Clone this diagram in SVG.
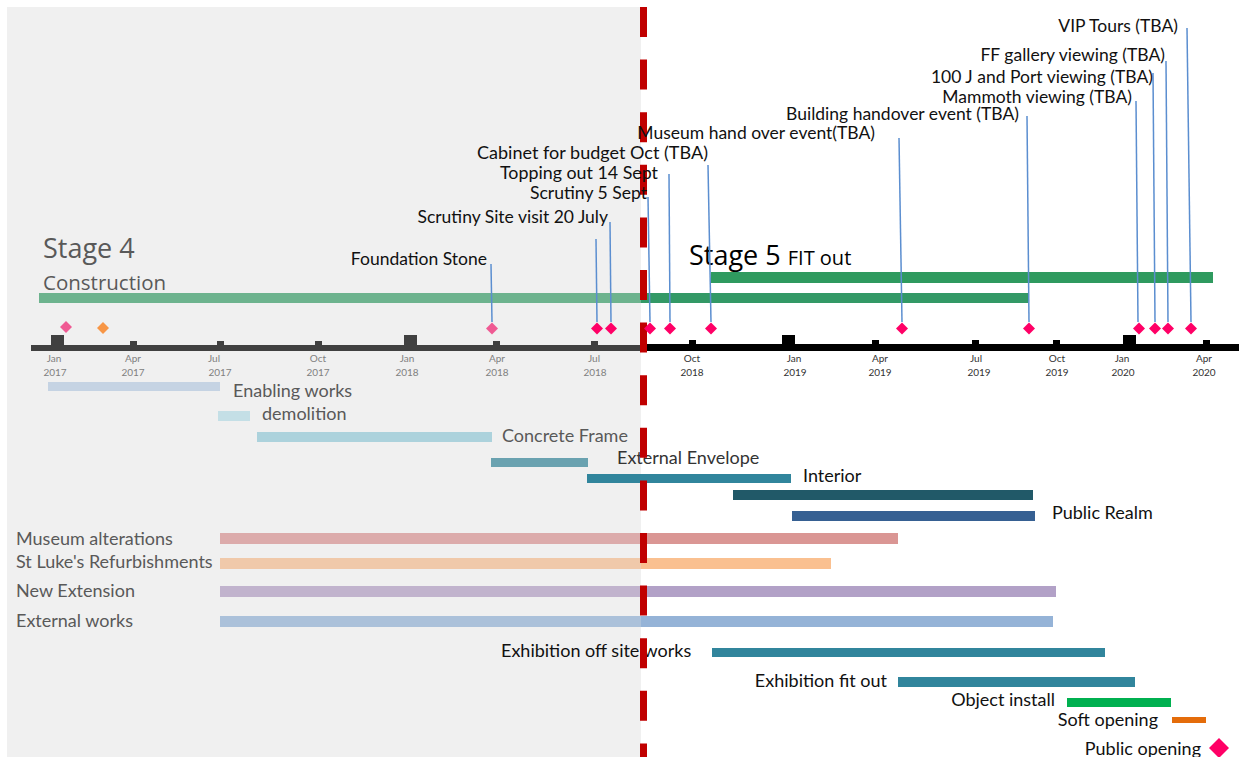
<svg xmlns="http://www.w3.org/2000/svg" width="1239" height="757" viewBox="0 0 1239 757">
<style>
.lbl{font-family:Lato,"Liberation Sans",sans-serif;font-size:18px;fill:#111}
.ms{font-family:Lato,"Liberation Sans",sans-serif;font-size:17.5px;fill:#111;text-anchor:end}
.ms2{font-family:Lato,"Liberation Sans",sans-serif;font-size:16.5px;fill:#111;text-anchor:end}
.gl{font-family:Lato,"Liberation Sans",sans-serif;font-size:18px;fill:#595959}
.tk{font-family:Lato,"Liberation Sans",sans-serif;font-size:10px;text-anchor:middle}
.tkl{fill:#808080}
.tkr{fill:#333}
.lead{stroke:#5b8ed0;stroke-width:1.5;fill:none}
.dm{fill:#ff0066}
.dml{fill:#ef5a93}
</style>
<defs>
<path id="dia" d="M0,-6 L6,0 L0,6 L-6,0 Z"/>
</defs>
<rect width="1239" height="757" fill="#ffffff"/>
<rect x="7" y="7" width="634" height="750" fill="#f0f0f0"/>

<g id="stage4">
<text x="43" y="258" style="font-family:'Open Sans',sans-serif;font-size:27px;fill:#595959">Stage 4</text>
<text x="43" y="290" style="font-family:'Open Sans',sans-serif;font-size:20.5px;fill:#595959">Construction</text>
<rect x="39" y="293" width="602" height="10" fill="#6db38e"/>
<rect x="641" y="293" width="387" height="10" fill="#339966"/>
</g>
<g id="stage5">
<text x="689" y="265" style="font-family:'Open Sans',sans-serif;font-size:27px;fill:#000">Stage 5 <tspan style="font-size:20px">FIT out</tspan></text>
<rect x="711" y="272" width="502" height="11" fill="#2f9a5f"/>
</g>

<g id="axis">
<rect x="31" y="345" width="610" height="6" fill="#404040"/>
<rect x="641" y="344" width="598" height="7" fill="#000"/>
<rect x="51" y="335" width="13" height="10" fill="#404040"/>
<rect x="130" y="341" width="7" height="4" fill="#404040"/>
<rect x="217" y="341" width="7" height="4" fill="#404040"/>
<rect x="315" y="341" width="7" height="4" fill="#404040"/>
<rect x="404" y="335" width="13" height="10" fill="#404040"/>
<rect x="493" y="341" width="7" height="4" fill="#404040"/>
<rect x="591" y="341" width="7" height="4" fill="#404040"/>
<rect x="689" y="340" width="7" height="4" fill="#000"/>
<rect x="782" y="335" width="13" height="9" fill="#000"/>
<rect x="872" y="340" width="7" height="4" fill="#000"/>
<rect x="972" y="340" width="7" height="4" fill="#000"/>
<rect x="1053" y="340" width="7" height="4" fill="#000"/>
<rect x="1123" y="335" width="13" height="9" fill="#000"/>
<rect x="1203" y="340" width="7" height="4" fill="#000"/>
<g class="tk tkl">
<text x="54" y="362">Jan</text><text x="55" y="376">2017</text>
<text x="133" y="362">Apr</text><text x="133" y="376">2017</text>
<text x="214" y="362">Jul</text><text x="220" y="376">2017</text>
<text x="318" y="362">Oct</text><text x="318" y="376">2017</text>
<text x="407" y="362">Jan</text><text x="407" y="376">2018</text>
<text x="497" y="362">Apr</text><text x="497" y="376">2018</text>
<text x="594" y="362">Jul</text><text x="595" y="376">2018</text>
</g>
<g class="tk tkr">
<text x="692" y="362">Oct</text><text x="692" y="376">2018</text>
<text x="794" y="362">Jan</text><text x="795" y="376">2019</text>
<text x="880" y="362">Apr</text><text x="880" y="376">2019</text>
<text x="976" y="362">Jul</text><text x="979" y="376">2019</text>
<text x="1057" y="362">Oct</text><text x="1057" y="376">2019</text>
<text x="1122" y="362">Jan</text><text x="1123" y="376">2020</text>
<text x="1204" y="362">Apr</text><text x="1204" y="376">2020</text>
</g>
</g>

<g id="bars-left">
<g id="enabling"><rect x="48" y="382" width="172" height="9" fill="#c5d3e3"/><text class="gl" x="233" y="397">Enabling works</text></g>
<g id="demolition"><rect x="218" y="411" width="32" height="10" fill="#c4dfe6"/><text class="gl" x="262" y="420">demolition</text></g>
<g id="concrete"><rect x="257" y="432" width="235" height="10" fill="#acd2dc"/><text class="gl" x="502" y="442">Concrete Frame</text></g>
<g id="envelope"><rect x="491" y="458" width="97" height="9" fill="#6aa2b0"/><text class="lbl" x="617" y="464" style="fill:#333">External Envelope</text></g>
<g id="interior"><rect x="587" y="474" width="204" height="9" fill="#31859c"/><text class="lbl" x="803" y="482">Interior</text></g>
<g id="darkbar"><rect x="733" y="490" width="300" height="10" fill="#215968"/></g>
<g id="publicrealm"><rect x="792" y="511" width="243" height="10" fill="#366092"/><text class="lbl" x="1052" y="519">Public Realm</text></g>
</g>

<g id="streams">
<g id="museum"><text class="gl" x="16" y="545">Museum alterations</text><rect x="220" y="533" width="421" height="11" fill="#dcabab"/><rect x="641" y="533" width="257" height="11" fill="#da9694"/></g>
<g id="stluke"><text class="gl" x="16" y="568">St Luke's Refurbishments</text><rect x="220" y="558" width="421" height="11" fill="#f0c9aa"/><rect x="641" y="558" width="190" height="11" fill="#fac090"/></g>
<g id="newext"><text class="gl" x="16" y="597">New Extension</text><rect x="220" y="586" width="421" height="11" fill="#c1b3cd"/><rect x="641" y="586" width="415" height="11" fill="#b2a1c7"/></g>
<g id="extworks"><text class="gl" x="16" y="627">External works</text><rect x="220" y="616" width="421" height="11" fill="#abc1da"/><rect x="641" y="616" width="412" height="11" fill="#95b3d7"/></g>
</g>

<g id="exhibition">
<g id="offsite"><text class="lbl" x="501" y="657">Exhibition off site works</text><rect x="712" y="648" width="393" height="9" fill="#31859c"/></g>
<g id="fitout"><text class="lbl" x="887" y="687" text-anchor="end">Exhibition fit out</text><rect x="898" y="677" width="237" height="10" fill="#31859c"/></g>
<g id="object"><text class="lbl" x="1055" y="706" text-anchor="end">Object install</text><rect x="1067" y="698" width="104" height="9" fill="#00b050"/></g>
<g id="soft"><text class="lbl" x="1158" y="726" text-anchor="end">Soft opening</text><rect x="1172" y="717" width="34" height="6" fill="#e46c0a"/></g>
<g id="public"><text class="lbl" x="1201" y="755" text-anchor="end">Public opening</text><path d="M1219,738 L1229,748 L1219,758 L1209,748 Z" fill="#ff0066"/></g>
</g>

<path d="M643.5,7 V757" stroke="#c00000" stroke-width="7" stroke-dasharray="30 22.6" fill="none"/>

<g id="connectors">
<path class="lead" d="M491,264 L492,322"/>
<path class="lead" d="M596,239 L597,322"/>
<path class="lead" d="M610,222 L611,322"/>
<path class="lead" d="M648,197 L650,322"/>
<path class="lead" d="M669,174 L670,322"/>
<path class="lead" d="M708,165 L711,322"/>
<path class="lead" d="M899,138 L902,322"/>
<path class="lead" d="M1027,116 L1029,322"/>
<path class="lead" d="M1136,101 L1138,322"/>
<path class="lead" d="M1153,73 L1155,322"/>
<path class="lead" d="M1166,61 L1168,322"/>
<path class="lead" d="M1187,28 L1191,322"/>
</g>

<g id="milestones">
<g id="m-jan17"><use href="#dia" x="66" y="327" class="dml"/></g>
<g id="m-feb17"><use href="#dia" x="103" y="328" fill="#f79646"/></g>
<g id="m-foundation"><use href="#dia" x="492" y="328.5" class="dml"/><text class="ms" x="487" y="265">Foundation Stone</text></g>
<g id="m-jul1"><use href="#dia" x="597" y="328.5" class="dm"/></g>
<g id="m-scrutiny-visit"><use href="#dia" x="611" y="328.5" class="dm"/><text class="ms" x="608" y="223">Scrutiny Site visit 20 July</text></g>
<g id="m-scrutiny"><use href="#dia" x="650" y="328.5" class="dm"/><text class="ms2" x="647" y="199" textLength="117" lengthAdjust="spacingAndGlyphs">Scrutiny 5 Sept</text></g>
<g id="m-topping"><use href="#dia" x="670" y="328.5" class="dm"/><text class="ms2" x="658" y="179" textLength="158" lengthAdjust="spacingAndGlyphs">Topping out 14 Sept</text></g>
<g id="m-cabinet"><use href="#dia" x="711" y="328.5" class="dm"/><text class="ms2" x="708" y="159" textLength="231" lengthAdjust="spacingAndGlyphs">Cabinet for budget Oct (TBA)</text></g>
<g id="m-museum"><use href="#dia" x="902" y="328.5" class="dm"/><text class="ms" x="875" y="138.5">Museum hand over event(TBA)</text></g>
<g id="m-building"><use href="#dia" x="1029" y="328.5" class="dm"/><text class="ms" x="1019" y="120">Building handover event (TBA)</text></g>
<g id="m-mammoth"><use href="#dia" x="1139" y="328.5" class="dm"/><text class="ms" x="1132" y="103">Mammoth viewing (TBA)</text></g>
<g id="m-100j"><use href="#dia" x="1155" y="328.5" class="dm"/><text class="ms" x="1153" y="83">100 J and Port viewing (TBA)</text></g>
<g id="m-ff"><use href="#dia" x="1168" y="328.5" class="dm"/><text class="ms" x="1165" y="61">FF gallery viewing (TBA)</text></g>
<g id="m-vip"><use href="#dia" x="1191" y="328.5" class="dm"/><text class="ms" x="1178" y="32">VIP Tours (TBA)</text></g>
</g>
</svg>
